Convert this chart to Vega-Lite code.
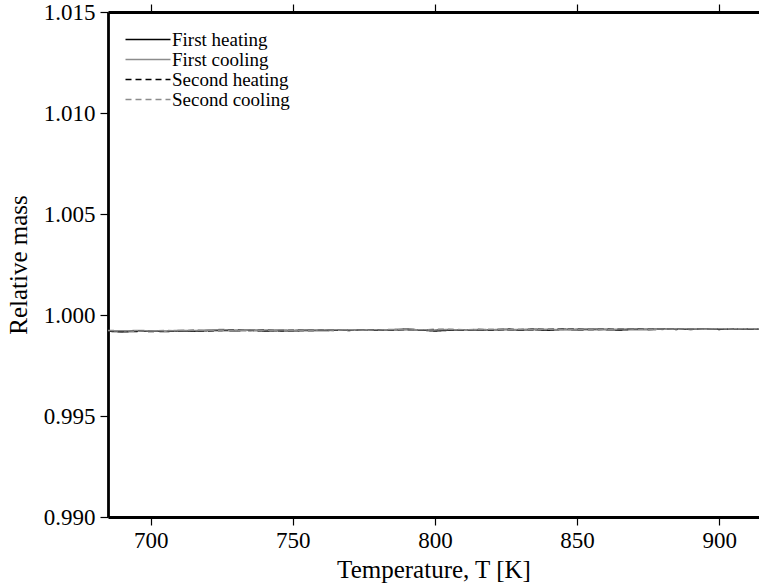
{
  "$schema": "https://vega.github.io/schema/vega-lite/v6.json",
  "width": 651,
  "height": 505,
  "autosize": {"type": "none"},
  "padding": {"left": 108, "top": 12, "right": 0, "bottom": 71},
  "config": {
    "view": {"stroke": null},
    "font": "Times New Roman, Liberation Serif, Times, serif",
    "axis": {
      "grid": false,
      "domainColor": "black",
      "domainWidth": 2.8,
      "tickColor": "black",
      "tickWidth": 1.2,
      "tickSize": 8,
      "labelColor": "black",
      "labelFont": "Times New Roman, Liberation Serif, Times, serif",
      "labelFontSize": 23,
      "titleFont": "Times New Roman, Liberation Serif, Times, serif",
      "titleFontSize": 25,
      "titleFontWeight": "normal",
      "titleColor": "black"
    }
  },
  "data": {
    "values": [
      {"T": 685, "First heating": 0.99920, "First cooling": 0.99922, "Second heating": 0.99921, "Second cooling": 0.99923},
      {"T": 690, "First heating": 0.99917, "First cooling": 0.99921, "Second heating": 0.99919, "Second cooling": 0.99922},
      {"T": 695, "First heating": 0.99919, "First cooling": 0.99923, "Second heating": 0.99922, "Second cooling": 0.99920},
      {"T": 700, "First heating": 0.99921, "First cooling": 0.99922, "Second heating": 0.99918, "Second cooling": 0.99921},
      {"T": 705, "First heating": 0.99918, "First cooling": 0.99920, "Second heating": 0.99921, "Second cooling": 0.99923},
      {"T": 710, "First heating": 0.99922, "First cooling": 0.99924, "Second heating": 0.99920, "Second cooling": 0.99922},
      {"T": 715, "First heating": 0.99920, "First cooling": 0.99923, "Second heating": 0.99923, "Second cooling": 0.99924},
      {"T": 720, "First heating": 0.99923, "First cooling": 0.99925, "Second heating": 0.99921, "Second cooling": 0.99923},
      {"T": 725, "First heating": 0.99924, "First cooling": 0.99928, "Second heating": 0.99924, "Second cooling": 0.99925},
      {"T": 730, "First heating": 0.99922, "First cooling": 0.99925, "Second heating": 0.99926, "Second cooling": 0.99924},
      {"T": 735, "First heating": 0.99925, "First cooling": 0.99924, "Second heating": 0.99923, "Second cooling": 0.99926},
      {"T": 740, "First heating": 0.99921, "First cooling": 0.99926, "Second heating": 0.99925, "Second cooling": 0.99924},
      {"T": 745, "First heating": 0.99923, "First cooling": 0.99925, "Second heating": 0.99922, "Second cooling": 0.99926},
      {"T": 750, "First heating": 0.99922, "First cooling": 0.99924, "Second heating": 0.99924, "Second cooling": 0.99925},
      {"T": 755, "First heating": 0.99924, "First cooling": 0.99926, "Second heating": 0.99923, "Second cooling": 0.99924},
      {"T": 760, "First heating": 0.99923, "First cooling": 0.99925, "Second heating": 0.99925, "Second cooling": 0.99926},
      {"T": 765, "First heating": 0.99925, "First cooling": 0.99927, "Second heating": 0.99924, "Second cooling": 0.99925},
      {"T": 770, "First heating": 0.99924, "First cooling": 0.99925, "Second heating": 0.99926, "Second cooling": 0.99927},
      {"T": 775, "First heating": 0.99926, "First cooling": 0.99926, "Second heating": 0.99925, "Second cooling": 0.99925},
      {"T": 780, "First heating": 0.99925, "First cooling": 0.99927, "Second heating": 0.99927, "Second cooling": 0.99926},
      {"T": 785, "First heating": 0.99927, "First cooling": 0.99926, "Second heating": 0.99925, "Second cooling": 0.99928},
      {"T": 790, "First heating": 0.99929, "First cooling": 0.99928, "Second heating": 0.99928, "Second cooling": 0.99926},
      {"T": 795, "First heating": 0.99926, "First cooling": 0.99927, "Second heating": 0.99926, "Second cooling": 0.99927},
      {"T": 800, "First heating": 0.99921, "First cooling": 0.99926, "Second heating": 0.99928, "Second cooling": 0.99926},
      {"T": 805, "First heating": 0.99925, "First cooling": 0.99928, "Second heating": 0.99927, "Second cooling": 0.99929},
      {"T": 810, "First heating": 0.99927, "First cooling": 0.99926, "Second heating": 0.99925, "Second cooling": 0.99927},
      {"T": 815, "First heating": 0.99926, "First cooling": 0.99928, "Second heating": 0.99928, "Second cooling": 0.99928},
      {"T": 820, "First heating": 0.99927, "First cooling": 0.99927, "Second heating": 0.99926, "Second cooling": 0.99929},
      {"T": 825, "First heating": 0.99928, "First cooling": 0.99929, "Second heating": 0.99929, "Second cooling": 0.99927},
      {"T": 830, "First heating": 0.99926, "First cooling": 0.99928, "Second heating": 0.99927, "Second cooling": 0.99929},
      {"T": 835, "First heating": 0.99928, "First cooling": 0.99930, "Second heating": 0.99929, "Second cooling": 0.99928},
      {"T": 840, "First heating": 0.99925, "First cooling": 0.99929, "Second heating": 0.99928, "Second cooling": 0.99930},
      {"T": 845, "First heating": 0.99929, "First cooling": 0.99928, "Second heating": 0.99930, "Second cooling": 0.99929},
      {"T": 850, "First heating": 0.99927, "First cooling": 0.99930, "Second heating": 0.99929, "Second cooling": 0.99928},
      {"T": 855, "First heating": 0.99929, "First cooling": 0.99931, "Second heating": 0.99928, "Second cooling": 0.99930},
      {"T": 860, "First heating": 0.99928, "First cooling": 0.99929, "Second heating": 0.99930, "Second cooling": 0.99929},
      {"T": 865, "First heating": 0.99926, "First cooling": 0.99930, "Second heating": 0.99929, "Second cooling": 0.99931},
      {"T": 870, "First heating": 0.99929, "First cooling": 0.99931, "Second heating": 0.99931, "Second cooling": 0.99930},
      {"T": 875, "First heating": 0.99928, "First cooling": 0.99930, "Second heating": 0.99929, "Second cooling": 0.99929},
      {"T": 880, "First heating": 0.99930, "First cooling": 0.99929, "Second heating": 0.99931, "Second cooling": 0.99931},
      {"T": 885, "First heating": 0.99929, "First cooling": 0.99931, "Second heating": 0.99930, "Second cooling": 0.99930},
      {"T": 890, "First heating": 0.99931, "First cooling": 0.99932, "Second heating": 0.99929, "Second cooling": 0.99931},
      {"T": 895, "First heating": 0.99930, "First cooling": 0.99930, "Second heating": 0.99931, "Second cooling": 0.99930},
      {"T": 900, "First heating": 0.99929, "First cooling": 0.99931, "Second heating": 0.99930, "Second cooling": 0.99932},
      {"T": 905, "First heating": 0.99931, "First cooling": 0.99932, "Second heating": 0.99932, "Second cooling": 0.99931},
      {"T": 910, "First heating": 0.99930, "First cooling": 0.99931, "Second heating": 0.99931, "Second cooling": 0.99932},
      {"T": 915, "First heating": 0.99931, "First cooling": 0.99932, "Second heating": 0.99931, "Second cooling": 0.99931}
    ]
  },
  "transform": [
    {"fold": ["First heating", "First cooling", "Second heating", "Second cooling"], "as": ["run", "mass"]}
  ],
  "layer": [
    {
      "mark": {"type": "line", "strokeWidth": 1.6, "clip": true, "interpolate": "linear"},
      "encoding": {
        "x": {
          "field": "T",
          "type": "quantitative",
          "scale": {"domain": [685, 914], "nice": false, "zero": false},
          "axis": {
            "orient": "bottom",
            "title": "Temperature, T [K]",
            "values": [700, 750, 800, 850, 900],
            "domainWidth": 2.8,
            "labelPadding": 4,
            "titlePadding": 5
          }
        },
        "y": {
          "field": "mass",
          "type": "quantitative",
          "scale": {"domain": [0.990, 1.015], "nice": false, "zero": false},
          "axis": {
            "title": "Relative mass",
            "values": [0.990, 0.995, 1.000, 1.005, 1.010, 1.015],
            "format": ".3f",
            "domainWidth": 2.8,
            "labelPadding": 5,
            "titlePadding": 12
          }
        },
        "color": {
          "field": "run",
          "type": "nominal",
          "scale": {
            "domain": ["First heating", "First cooling", "Second heating", "Second cooling"],
            "range": ["#000000", "#8c8c8c", "#000000", "#8c8c8c"]
          },
          "legend": {
            "title": null,
            "orient": "none",
            "legendX": 13,
            "legendY": 18,
            "symbolType": "M-1,0H8",
            "symbolSize": 100,
            "symbolStrokeWidth": 1.5,
            "labelFont": "Times New Roman, Liberation Serif, Times, serif",
            "labelFontSize": 19,
            "labelColor": "black",
            "labelOffset": 32,
            "rowPadding": 0,
            "padding": 0
          }
        },
        "strokeDash": {
          "field": "run",
          "type": "nominal",
          "scale": {
            "domain": ["First heating", "First cooling", "Second heating", "Second cooling"],
            "range": [[1, 0], [1, 0], [6, 4], [6, 4]]
          },
          "legend": {
            "title": null,
            "orient": "none",
            "legendX": 13,
            "legendY": 18,
            "symbolType": "M-1,0H8",
            "symbolSize": 100,
            "symbolStrokeWidth": 1.5,
            "labelFont": "Times New Roman, Liberation Serif, Times, serif",
            "labelFontSize": 19,
            "labelColor": "black",
            "labelOffset": 32,
            "rowPadding": 0,
            "padding": 0
          }
        }
      }
    },
    {
      "mark": {"type": "rule", "opacity": 0},
      "encoding": {
        "x": {
          "field": "T",
          "type": "quantitative",
          "axis": {
            "orient": "top",
            "title": null,
            "labels": false,
            "domainWidth": 2.8,
            "values": [700, 750, 800, 850, 900]
          }
        }
      }
    }
  ],
  "resolve": {"axis": {"x": "independent"}}
}
